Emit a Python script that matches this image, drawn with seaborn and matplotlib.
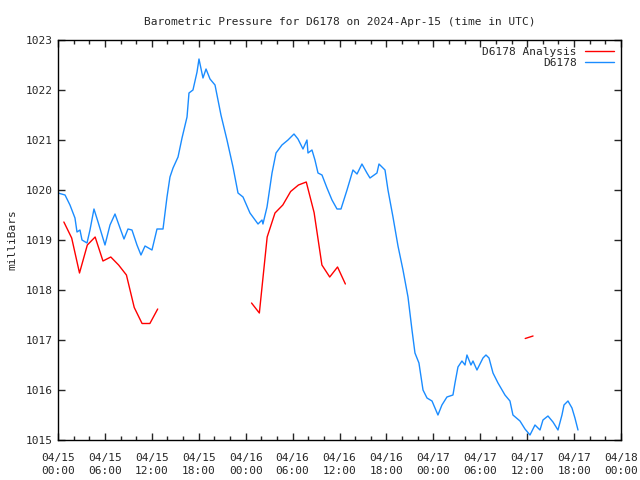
import numpy as np
import pandas as pd
import seaborn as sns
import matplotlib.pyplot as plt
from matplotlib.ticker import MultipleLocator

# Observed pressure (hours since 04/15 00:00 UTC, mb)
obs_hours = [0.0, 0.9, 1.53, 2.17, 2.43, 2.81, 3.07, 3.71, 4.09, 4.6, 5.12, 6.01, 6.65, 7.29,
             7.93, 8.44, 8.95, 9.46, 10.1, 10.61, 11.13, 12.02, 12.66, 13.43, 13.94, 14.32,
             14.71, 15.35, 15.86, 16.5, 16.75, 17.26, 17.78, 18.03, 18.54, 18.93, 19.44,
             20.08, 20.84, 21.61, 22.38, 23.02, 23.66, 24.55, 25.58, 26.09, 26.21, 26.73,
             27.37, 27.88, 28.64, 29.41, 30.18, 30.69, 31.33, 31.84, 31.97, 32.48, 32.86,
             33.25, 33.76, 34.4, 35.04, 35.68, 36.19, 36.96, 37.72, 38.24, 38.87, 39.51,
             39.9, 40.79, 41.05, 41.82, 42.2, 42.84, 43.48, 44.12, 44.76, 45.27, 45.65,
             46.16, 46.68, 47.19, 47.83, 48.59, 49.1, 49.74, 50.51, 50.77, 51.15, 51.66,
             52.05, 52.3, 52.81, 53.07, 53.58, 54.35, 54.73, 55.12, 55.63, 56.27, 57.16,
             57.8, 58.18, 59.08, 59.72, 60.36, 61.0, 61.64, 62.02, 62.66, 63.3, 63.94,
             64.45, 64.71, 65.22, 65.73, 66.11, 66.5]
obs_mb = [1019.94, 1019.90, 1019.70, 1019.44, 1019.16, 1019.20, 1019.00, 1018.94, 1019.20,
          1019.62, 1019.36, 1018.90, 1019.30, 1019.52, 1019.24, 1019.02, 1019.22, 1019.20,
          1018.90, 1018.70, 1018.88, 1018.80, 1019.22, 1019.22, 1019.86, 1020.26, 1020.44,
          1020.66, 1021.04, 1021.46, 1021.94, 1022.00, 1022.36, 1022.62, 1022.24, 1022.42,
          1022.22, 1022.10, 1021.50, 1021.00, 1020.46, 1019.94, 1019.86, 1019.54, 1019.32,
          1019.40, 1019.32, 1019.66, 1020.34, 1020.74, 1020.90, 1021.00, 1021.12, 1021.02,
          1020.82, 1021.00, 1020.74, 1020.80, 1020.60, 1020.34, 1020.30, 1020.04, 1019.80,
          1019.62, 1019.62, 1020.00, 1020.40, 1020.32, 1020.52, 1020.34, 1020.24, 1020.34,
          1020.52, 1020.40, 1020.00, 1019.46, 1018.88, 1018.40, 1017.86, 1017.20, 1016.74,
          1016.54, 1016.00, 1015.84, 1015.78, 1015.50, 1015.70, 1015.86, 1015.90, 1016.14,
          1016.46, 1016.58, 1016.50, 1016.70, 1016.50, 1016.58, 1016.40, 1016.64, 1016.70,
          1016.64, 1016.34, 1016.14, 1015.90, 1015.78, 1015.50, 1015.38, 1015.22, 1015.10,
          1015.30, 1015.20, 1015.40, 1015.48, 1015.36, 1015.20, 1015.50, 1015.70, 1015.78,
          1015.64, 1015.44, 1015.20]

# Analysis, three separate runs
ana_hours = [0.75, 1.75, 2.75, 3.75, 4.75, 5.75, 6.75, 7.75, 8.75, 9.75, 10.75, 11.75, 12.75,
             24.75, 25.75, 26.75, 27.75, 28.75, 29.75, 30.75, 31.75, 32.75, 33.75, 34.75,
             35.75, 36.75,
             59.75, 60.75]
ana_mb = [1019.36, 1019.04, 1018.34, 1018.90, 1019.06, 1018.58, 1018.66, 1018.50, 1018.30,
          1017.65, 1017.33, 1017.33, 1017.62,
          1017.74, 1017.54, 1019.06, 1019.54, 1019.70, 1019.97, 1020.10, 1020.16, 1019.55,
          1018.50, 1018.26, 1018.46, 1018.12,
          1017.03, 1017.08]
ana_run = [0] * 13 + [1] * 13 + [2] * 2

tick_hours = list(range(0, 73, 6))
tick_labels = ["04/15\n00:00", "04/15\n06:00", "04/15\n12:00", "04/15\n18:00",
               "04/16\n00:00", "04/16\n06:00", "04/16\n12:00", "04/16\n18:00",
               "04/17\n00:00", "04/17\n06:00", "04/17\n12:00", "04/17\n18:00",
               "04/18\n00:00"]

obs = pd.DataFrame({"hour": obs_hours, "mb": obs_mb})
ana = pd.DataFrame({"hour": ana_hours, "mb": ana_mb, "run": ana_run})

sns.set_style("ticks")
plt.rcParams["font.family"] = ["DejaVu Sans Mono"]
plt.rcParams["font.size"] = 8

fig = plt.figure(figsize=(6.4, 4.8), dpi=100)
ax = fig.add_axes([58 / 640, 40 / 480, 563 / 640, 400 / 480])

red = "#ff0000"
blue = "#1a8cff"
sns.lineplot(data=ana, x="hour", y="mb", units="run", estimator=None, color=red,
             linewidth=1, ax=ax, legend=False)
sns.lineplot(data=obs, x="hour", y="mb", color=blue, linewidth=1, ax=ax, legend=False)

ax.plot([], [], color=red, linewidth=1, label="D6178 Analysis")
ax.plot([], [], color=blue, linewidth=1, label="D6178")
ax.legend(loc="upper right", frameon=False, markerfirst=False, handlelength=2.6,
          borderaxespad=0.2, labelspacing=0.1, fontsize=8)

ax.set_xlim(0, 72)
ax.set_ylim(1015, 1023)
ax.set_xticks(tick_hours)
ax.set_xticklabels(tick_labels, linespacing=1.5)
ax.xaxis.set_minor_locator(MultipleLocator(2))
ax.yaxis.set_major_locator(MultipleLocator(1))
ax.tick_params(which="both", direction="in", top=True, right=True, width=1)
ax.tick_params(which="major", length=5)
ax.tick_params(which="minor", length=3)
ax.tick_params(axis="x", which="major", pad=9)
for s in ax.spines.values():
    s.set_linewidth(1)
    s.set_color("black")

ax.set_xlabel("")
ax.set_ylabel("milliBars", labelpad=6)
ax.set_title("Barometric Pressure for D6178 on 2024-Apr-15 (time in UTC)", fontsize=8, pad=11)

fig.savefig("out.png", dpi=100)
